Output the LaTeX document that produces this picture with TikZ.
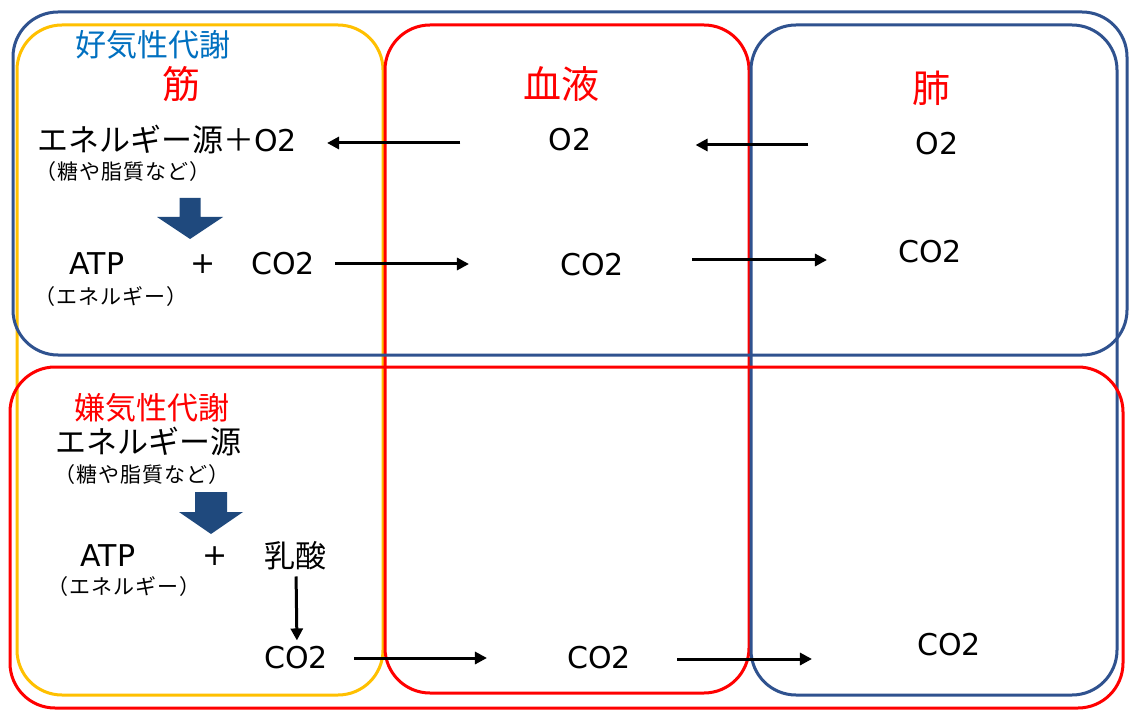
\documentclass[tikz,border=0pt]{standalone}
\usepackage{fontspec}
\setmainfont{Noto Sans CJK JP}
\newfontfamily\lat{DejaVu Sans}
\newfontfamily\smalljp[LetterSpace=5]{Noto Sans CJK JP}
\usetikzlibrary{arrows.meta}
\definecolor{dblue}{RGB}{47,82,143}
\definecolor{ylw}{RGB}{255,192,0}
\definecolor{lblue}{RGB}{0,112,192}
\definecolor{afill}{RGB}{31,73,125}
\tikzset{
  box/.style={line width=3pt, rounded corners=45pt},
  big/.style={font=\fontsize{31}{34}\selectfont, inner sep=0pt},
  lt/.style={font=\lat\fontsize{30}{34}\selectfont, inner sep=0pt},
  small/.style={font=\smalljp\fontsize{21}{24}\selectfont, inner sep=0pt},
  ttl/.style={font=\fontsize{38}{40}\selectfont, text=red, inner sep=0pt},
  arr/.style={line width=3pt, -{Triangle[length=12pt,width=12pt]}},
  fat/.style={fill=afill, draw=none},
}
\begin{document}
\begin{tikzpicture}[x=1pt,y=-1pt]
\useasboundingbox (0,0) rectangle (1130,711);
\fill[white] (0,0) rectangle (1130,711);
% boxes
\draw[box,ylw] (17,25) rectangle (383,695);
\draw[box,red] (385,25) rectangle (749,693);
\draw[box,dblue] (751,25) rectangle (1117,695);
\draw[box,dblue] (13,12) rectangle (1127,355);
\draw[box,red] (10,367) rectangle (1123,708);
% top section
\node[big,text=lblue] (aer) at (153,45) {好気性代謝};
\node[ttl] (muscle) at (181,84) {筋};
\node[ttl] (blood) at (561,84) {血液};
\node[ttl] (lung) at (931,88) {肺};
\node[big] (src1) at (167,140) {エネルギー源＋{\lat\fontsize{30}{34}\selectfont O2}};
\node[small] (note1) at (123,172) {（糖や脂質など）};
\fill[fat] (179.5,198) -- (200.5,198) -- (200.5,217) -- (223,217) -- (190,239) -- (157,217) -- (179.5,217) -- cycle;
\node[lt] (atp1) at (97,264) {ATP};
\node[lt] (plus1) at (203,264) {+};
\node[lt] (co2m1) at (283,264) {CO2};
\node[small] (note2) at (111,297) {（エネルギー）};
\node[lt] (o2b) at (570,140) {O2};
\node[lt] (o2l) at (937,144) {O2};
\node[lt] (co2b1) at (592,265) {CO2};
\node[lt] (co2l1) at (930,252) {CO2};
\draw[arr, shorten <=88pt, shorten >=30pt] ([yshift=-3pt]o2b.west) -- ([yshift=-3pt]o2b.west -| src1.east);
\draw[arr, shorten <=107pt, shorten >=104pt] ([yshift=-1pt]o2l.west) -- ([yshift=-1pt]o2l.west -| o2b.east);
\draw[arr, shorten <=20pt, shorten >=91pt] (co2m1.east) -- (co2m1.east -| co2b1.west);
\draw[arr, shorten <=68pt, shorten >=71pt] ([yshift=5pt]co2b1.east) -- ([yshift=5pt]co2b1.east -| co2l1.west);
% bottom section
\node[big,text=red] (anaer) at (152,408) {嫌気性代謝};
\node[big] (src2) at (148,442) {エネルギー源};
\node[small] (note3) at (142,475) {（糖や脂質など）};
\fill[fat] (195,492) -- (227,492) -- (227,512) -- (243,512) -- (211,534) -- (179,512) -- (195,512) -- cycle;
\node[lt] (atp2) at (108,556) {ATP};
\node[lt] (plus2) at (215,556) {+};
\node[big] (lactic) at (295,556) {乳酸};
\node[small] (note4) at (124,587) {（エネルギー）};
\node[lt] (co2m2) at (296,658) {CO2};
\node[lt] (co2b2) at (599,658) {CO2};
\node[lt] (co2l2) at (949,645) {CO2};
\draw[arr, shorten <=6pt, shorten >=6pt] ([xshift=1pt]lactic.south) -- ([xshift=1pt]co2m2.north);
\draw[arr, shorten <=26pt, shorten >=80pt] (co2m2.east) -- (co2m2.east -| co2b2.west);
\draw[arr, shorten <=46pt, shorten >=105pt] ([yshift=-1pt]co2b2.east) -- ([yshift=-1pt]co2b2.east -| co2l2.west);
\end{tikzpicture}
\end{document}
